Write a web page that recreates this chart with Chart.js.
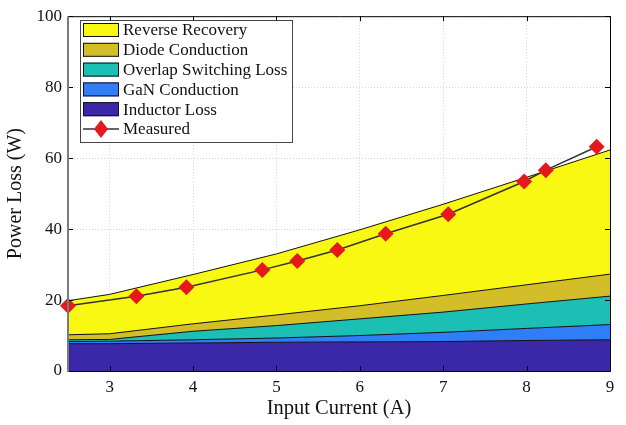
<!DOCTYPE html>
<html>
<head>
<meta charset="utf-8">
<script src="https://cdn.jsdelivr.net/npm/chart.js@4"></script>
<style>
  html, body { margin: 0; padding: 0; background: #fff; }
  #wrap { width: 626px; height: 425px; }
</style>
</head>
<body>
<div id="wrap"><canvas id="chart" width="626" height="425"></canvas></div>
<script>
// loss breakdown points (A)
const currents = [2.5, 3, 4, 5, 6, 7, 8, 9];
const inductorLoss = [7.7, 7.7, 7.9, 8.1, 8.2, 8.3, 8.6, 8.8];
const ganConduction = [0.6, 0.7, 0.9, 1.2, 1.8, 2.6, 3.4, 4.3];
const overlapLoss = [0.5, 0.5, 2.4, 3.5, 4.7, 5.7, 6.9, 8.0];
const diodeConduction = [1.4, 1.6, 2.1, 3.0, 3.7, 4.7, 5.4, 6.2];
const reverseRecovery = [9.6, 11.1, 13.9, 17.2, 21.4, 25.7, 30.3, 35.0];

// measured points
const measCurrent = [2.5, 3.32, 3.92, 4.83, 5.25, 5.73, 6.31, 7.06, 7.97, 8.23, 8.84];
const measLoss = [18.4, 21.1, 23.6, 28.5, 31.0, 34.1, 38.7, 44.2, 53.4, 56.6, 63.2];

const xTicks = [3, 4, 5, 6, 7, 8, 9];
const yTicks = [0, 20, 40, 60, 80, 100];

const serif = '"Liberation Serif", "DejaVu Serif", serif';

function pts(xs, ys) {
  return xs.map((x, i) => ({ x: x, y: ys[i] }));
}

function areaSet(label, values, color, fill) {
  return {
    label: label,
    data: pts(currents, values),
    backgroundColor: color,
    borderColor: '#111',
    borderWidth: 1,
    pointRadius: 0,
    fill: fill,
    tension: 0,
    stack: 'loss'
  };
}

// frame, inner ticks and legend box drawn by hand
const framePlugin = {
  id: 'frame',
  afterDraw(chart) {
    const ctx = chart.ctx;
    const a = chart.chartArea;
    const xs = chart.scales.x, ys = chart.scales.y;
    ctx.save();
    ctx.strokeStyle = '#000';
    ctx.lineWidth = 1;
    ctx.beginPath();
    xTicks.forEach(t => {
      const px = Math.round(xs.getPixelForValue(t)) + 0.5;
      ctx.moveTo(px, a.bottom); ctx.lineTo(px, a.bottom - 5);
      ctx.moveTo(px, a.top); ctx.lineTo(px, a.top + 5);
    });
    yTicks.forEach(t => {
      const py = Math.round(ys.getPixelForValue(t)) + 0.5;
      ctx.moveTo(a.left, py); ctx.lineTo(a.left + 5, py);
      ctx.moveTo(a.right, py); ctx.lineTo(a.right - 5, py);
    });
    ctx.stroke();
    // top / right / bottom
    ctx.beginPath();
    ctx.moveTo(a.left, a.top + 0.5); ctx.lineTo(a.right + 0.5, a.top + 0.5);
    ctx.lineTo(a.right + 0.5, a.bottom + 0.5); ctx.lineTo(a.left, a.bottom + 0.5);
    ctx.stroke();
    // left spine grey
    ctx.strokeStyle = '#7a7a7a';
    ctx.lineWidth = 2;
    ctx.beginPath();
    ctx.moveTo(a.left, a.top); ctx.lineTo(a.left, a.bottom + 1);
    ctx.stroke();

    // legend
    const bx = 80.5, by = 20.5, bw = 212, bh = 122;
    ctx.fillStyle = '#fff';
    ctx.fillRect(bx, by, bw, bh);
    ctx.strokeStyle = '#444';
    ctx.lineWidth = 1;
    ctx.strokeRect(bx, by, bw, bh);
    const order = [4, 3, 2, 1, 0, 5];
    ctx.font = '17px ' + serif;
    ctx.textBaseline = 'middle';
    order.forEach((di, i) => {
      const ds = chart.data.datasets[di];
      const cy = 30 + i * 19.8;
      if (di < 5) {
        ctx.fillStyle = ds.backgroundColor;
        ctx.fillRect(83, cy - 7, 36, 14);
        ctx.strokeStyle = '#111';
        ctx.strokeRect(83.5, cy - 6.5, 35, 13);
      } else {
        ctx.strokeStyle = '#333';
        ctx.lineWidth = 1.5;
        ctx.beginPath();
        ctx.moveTo(83, cy); ctx.lineTo(119, cy);
        ctx.stroke();
        ctx.fillStyle = ds.pointBackgroundColor;
        ctx.beginPath();
        ctx.moveTo(101, cy - 9); ctx.lineTo(108, cy);
        ctx.lineTo(101, cy + 9); ctx.lineTo(94, cy);
        ctx.closePath();
        ctx.fill();
        ctx.lineWidth = 1;
      }
      ctx.fillStyle = '#111';
      ctx.fillText(ds.label, 123, cy + 1);
    });
    ctx.restore();
  }
};

const ctx = document.getElementById('chart').getContext('2d');
const myChart = new Chart(ctx, {
  type: 'line',
  data: {
    datasets: [
      areaSet('Inductor Loss', inductorLoss, '#3B28A8', 'origin'),
      areaSet('GaN Conduction', ganConduction, '#2F7EF7', '-1'),
      areaSet('Overlap Switching Loss', overlapLoss, '#1BBFB3', '-1'),
      areaSet('Diode Conduction', diodeConduction, '#D3BE2A', '-1'),
      areaSet('Reverse Recovery', reverseRecovery, '#F8F812', '-1'),
      {
        label: 'Measured',
        data: pts(measCurrent, measLoss),
        borderColor: '#333',
        borderWidth: 1.5,
        pointStyle: 'rectRot',
        pointRadius: 8,
        pointBackgroundColor: '#E5191D',
        pointBorderWidth: 0,
        fill: false,
        tension: 0,
        stack: 'meas',
        order: -1,
        clip: 12
      }
    ]
  },
  options: {
    responsive: false,
    animation: false,
    layout: { padding: { top: 7, right: 16, left: 0, bottom: 0 } },
    plugins: {
      legend: { display: false },
      tooltip: { enabled: false }
    },
    scales: {
      x: {
        type: 'linear',
        min: 2.5,
        max: 9,
        afterBuildTicks: s => { s.ticks = xTicks.map(v => ({ value: v })); },
        afterFit: s => { s.height = 54; },
        grid: { color: '#d4d4d4', drawTicks: false },
        border: { display: false, dash: [1, 2] },
        ticks: { color: '#111', padding: 6, font: { family: serif, size: 17 }, maxRotation: 0 },
        title: { display: true, text: 'Input Current (A)', color: '#111', font: { family: serif, size: 20.5 }, padding: { top: 0 } }
      },
      y: {
        stacked: true,
        min: 0,
        max: 100,
        afterBuildTicks: s => { s.ticks = yTicks.map(v => ({ value: v })); },
        afterFit: s => { s.width = 68; },
        grid: { color: '#d4d4d4', drawTicks: false },
        border: { display: false, dash: [1, 2] },
        ticks: { color: '#111', padding: 6, font: { family: serif, size: 17 } },
        title: { display: true, text: 'Power Loss (W)', color: '#111', font: { family: serif, size: 20 }, padding: { bottom: 3 } }
      }
    }
  },
  plugins: [framePlugin]
});
</script>
</body>
</html>
